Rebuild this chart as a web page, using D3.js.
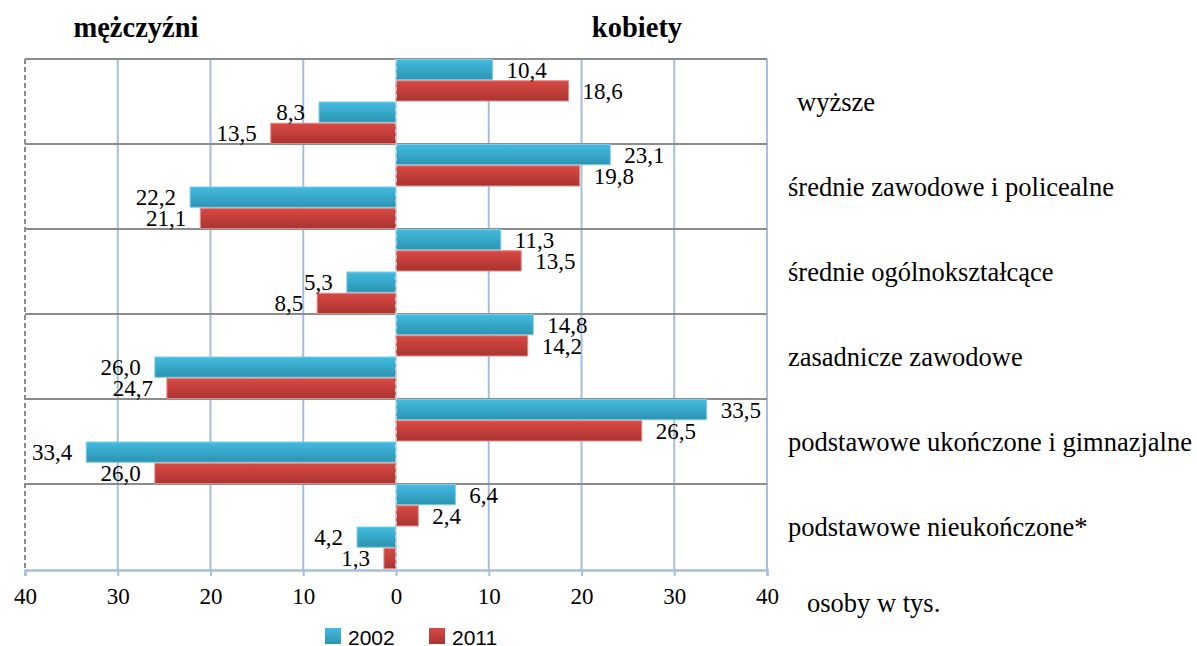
<!DOCTYPE html>
<html><head><meta charset="utf-8">
<script src="https://cdn.jsdelivr.net/npm/d3@7"></script>
<style>body{margin:0;background:#fff}svg{display:block}</style>
</head><body>
<svg id="c" width="1197" height="646"></svg>
<script>
const categories = ["wyższe","średnie zawodowe i policealne","średnie ogólnokształcące","zasadnicze zawodowe","podstawowe ukończone i gimnazjalne","podstawowe nieukończone*"];
const women2002 = [10.4, 23.1, 11.3, 14.8, 33.5, 6.4];
const women2011 = [18.6, 19.8, 13.5, 14.2, 26.5, 2.4];
const men2002 = [8.3, 22.2, 5.3, 26.0, 33.4, 4.2];
const men2011 = [13.5, 21.1, 8.5, 24.7, 26.0, 1.3];
const ticks = [-40,-30,-20,-10,0,10,20,30,40];
const years = ["2002","2011"];

const serif = "'Liberation Serif', 'Times New Roman', serif";
const svg = d3.select("#c");
const x = d3.scaleLinear().domain([-40,40]).range([25,767]);
const y = d3.scaleBand().domain(categories).range([59,569]).padding(0);
const rows = ["f2002","f2011","m2002","m2011"];
const yi = d3.scaleBand().domain(rows).range([0,y.bandwidth()]).padding(0);

const defs = svg.append("defs");
function grad(id,c1,c2){
  const g = defs.append("linearGradient").attr("id",id).attr("x1",0).attr("y1",0).attr("x2",0).attr("y2",1);
  g.append("stop").attr("offset","0%").attr("stop-color",c1);
  g.append("stop").attr("offset","100%").attr("stop-color",c2);
}
grad("gB","#42BCE0","#2C93B0");
grad("gR","#DA4943","#A93431");
const fill = {"2002":"url(#gB)","2011":"url(#gR)"};
const stroke = {"2002":"#7FCCE4","2011":"#E08A86"};

// vertical gridlines
svg.append("g").selectAll("line").data(ticks.filter(t=>t!==-40 && t!==0)).join("line")
  .attr("x1",d=>x(d)).attr("x2",d=>x(d)).attr("y1",59).attr("y2",570)
  .attr("stroke","#A7BFDE").attr("stroke-width",2);
// left edge dashed
svg.append("line").attr("x1",x(-40)).attr("x2",x(-40)).attr("y1",59).attr("y2",570)
  .attr("stroke","#8A8A8A").attr("stroke-width",2).attr("stroke-dasharray","5,3");
// group separator lines
svg.append("g").selectAll("line").data(categories).join("line")
  .attr("x1",x(-40)).attr("x2",x(40)).attr("y1",d=>y(d)).attr("y2",d=>y(d))
  .attr("stroke","#8C8C8C").attr("stroke-width",2);

// bars
const barData = [];
categories.forEach((c,i)=>{
  barData.push({c, row:"f2002", year:"2002", v: women2002[i], side:1});
  barData.push({c, row:"f2011", year:"2011", v: women2011[i], side:1});
  barData.push({c, row:"m2002", year:"2002", v: men2002[i], side:-1});
  barData.push({c, row:"m2011", year:"2011", v: men2011[i], side:-1});
});
svg.append("g").selectAll("rect").data(barData).join("rect")
  .attr("x",d=>d.side>0 ? x(0) : x(-d.v))
  .attr("width",d=>Math.abs(x(d.v)-x(0)))
  .attr("y",d=>y(d.c)+yi(d.row)+0.5)
  .attr("height",yi.bandwidth()-1)
  .attr("fill",d=>fill[d.year]).attr("stroke",d=>stroke[d.year]).attr("stroke-width",1);

// zero line
svg.append("line").attr("x1",x(0)).attr("x2",x(0)).attr("y1",59).attr("y2",570)
  .attr("stroke","#C9D7EA").attr("stroke-width",1.5).attr("stroke-dasharray","4,3");

// value labels
const fmt = v => d3.format(".1f")(v).replace(".",",");
svg.append("g").selectAll("text").data(barData).join("text")
  .attr("x",d=>d.side>0 ? x(d.v)+14 : x(-d.v)-14)
  .attr("y",d=>y(d.c)+yi(d.row)+yi.bandwidth()/2+8)
  .attr("text-anchor",d=>d.side>0?"start":"end")
  .attr("font-family",serif)
  .attr("font-size",23).attr("fill","#000")
  .text(d=>fmt(d.v));

// bottom axis
const ax = svg.append("g").attr("transform","translate(0,570)")
  .call(d3.axisBottom(x).tickValues(ticks).tickSize(6).tickPadding(20).tickFormat(d=>Math.abs(d)));
ax.attr("font-family",serif);
ax.select(".domain").attr("stroke","#A7BFDE").attr("stroke-width",2.5);
ax.selectAll(".tick line").attr("stroke","#A7BFDE").attr("stroke-width",2);
ax.selectAll(".tick text").attr("font-family",serif)
  .attr("font-size",23).attr("fill","#000").attr("dy","0.35em");

svg.append("text").attr("x",807).attr("y",612).attr("font-family",serif)
  .attr("font-size",26.5).text("osoby w tys.");

// category labels
svg.append("g").selectAll("text").data(categories).join("text")
  .attr("x",(d,i)=> i===0 ? 797 : 788)
  .attr("y",d=>y(d)+y.bandwidth()/2+9)
  .attr("font-family",serif).attr("font-size",26.5).attr("fill","#000")
  .text(d=>d);

// headers
svg.append("text").attr("x",136).attr("y",37).attr("text-anchor","middle")
  .attr("font-family",serif).attr("font-weight","bold").attr("font-size",28.5).text("mężczyźni");
svg.append("text").attr("x",637).attr("y",37).attr("text-anchor","middle")
  .attr("font-family",serif).attr("font-weight","bold").attr("font-size",28.5).text("kobiety");

// legend
const lg = svg.append("g").selectAll("g").data(years).join("g")
  .attr("transform",(d,i)=>`translate(${325+i*104},628)`);
lg.append("rect").attr("width",16).attr("height",16).attr("fill",d=>fill[d]);
lg.append("text").attr("x",23).attr("y",17).attr("font-family","'Liberation Sans', Arial, sans-serif")
  .attr("font-size",21).attr("fill","#000").text(d=>d);
</script>
</body></html>
